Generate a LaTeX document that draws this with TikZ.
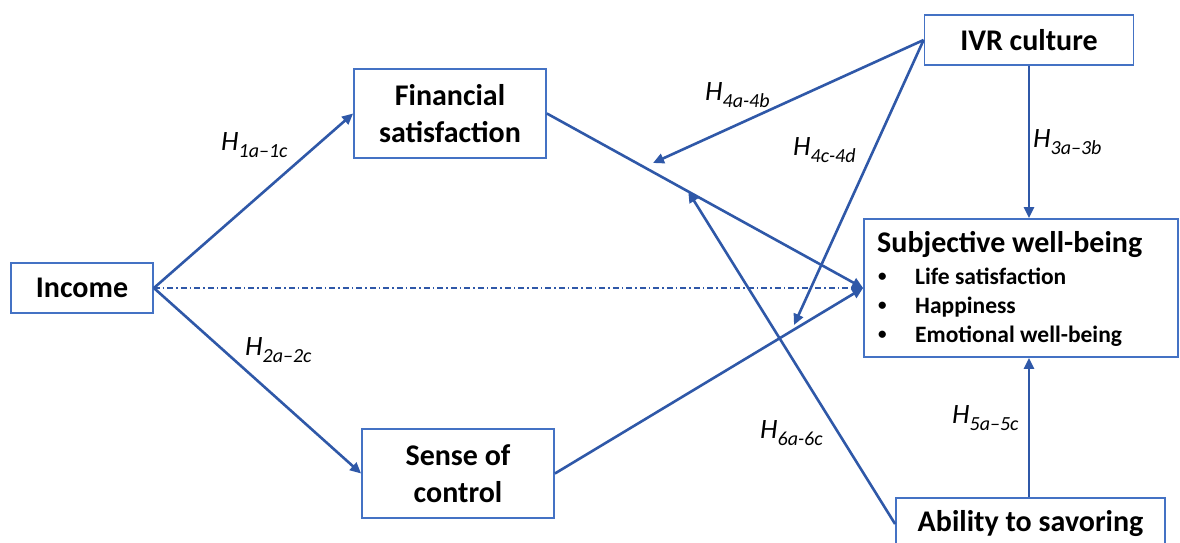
\documentclass[tikz,border=0pt]{standalone}
\usepackage{fontspec}
\setmainfont{Carlito}
\usetikzlibrary{arrows.meta}
\definecolor{arrowblue}{RGB}{47,88,168}
\definecolor{boxblue}{RGB}{68,114,196}
\tikzset{
  box/.style={draw=boxblue, line width=1.8pt, inner sep=0pt, align=center,
    font=\fontsize{30}{37}\selectfont\bfseries},
  conn/.style={draw=arrowblue, line width=2.6pt, -{Triangle[length=11pt,width=10pt]}},
  dashdot/.style={draw=arrowblue, line width=1.7pt, dash pattern=on 6pt off 3pt on 1.5pt off 3pt,
    -{Triangle[length=10pt,width=9pt]}},
  hyp/.style={anchor=base west, inner sep=0pt, font=\fontsize{28}{28}\selectfont\itshape},
  item/.style={anchor=base west, inner sep=0pt, font=\fontsize{23.5}{23.5}\selectfont\bfseries},
}
\newcommand{\hyplabel}[1]{H\raisebox{-7pt}{\fontsize{20}{20}\selectfont #1}}
\newcommand{\smallbullet}{\raisebox{2.5pt}{\fontsize{17}{17}\selectfont\textbullet}}
\begin{document}
\begin{tikzpicture}[x=1pt, y=-1pt]
\useasboundingbox (0,0) rectangle (1180,542);
\fill[white] (0,0) rectangle (1180,542);

% boxes
\node[box, minimum width=142pt, minimum height=50pt] (inc) at (82,288) {Income};
\node[box, minimum width=192pt, minimum height=89pt] (fs) at (450,113.5) {Financial\\satisfaction};
\node[box, minimum width=192pt, minimum height=89pt] (soc) at (458,473.5) {Sense of\\control};
\node[box, minimum width=209pt, minimum height=50pt] (ivr) at (1029,40) {IVR culture};
\node[box, minimum width=314pt, minimum height=138pt] (swb) at (1021,288) {};
\node[box, minimum width=269pt, minimum height=52pt] (abl) at (1030.5,524) {Ability to savoring};

% text inside subjective well-being
\node[anchor=base west, inner sep=0pt, font=\fontsize{30}{30}\selectfont\bfseries] (swbh) at (877,252) {Subjective well-being};
\node[item] (b1) at (878,284) {\smallbullet};
\node[item] (i1) at (915,284) {Life satisfaction};
\node[item] (b2) at (878,313) {\smallbullet};
\node[item] (i2) at (915,313) {Happiness};
\node[item] (b3) at (878,342) {\smallbullet};
\node[item] (i3) at (915,342) {Emotional well-being};

% helper coordinates on the lines
\path (fs.east) -- (swb.west) coordinate[pos=0.447] (m6);
\coordinate (t4ab) at (653,163);
\coordinate (t4cd) at (794,325);

% connectors
\draw[conn] (inc.east) -- (fs.west);
\draw[conn] (inc.east) -- (soc.west);
\draw[dashdot] (inc.east) -- (swb.west);
\draw[conn] (fs.east) -- (swb.west);
\draw[conn] (soc.east) -- (swb.west);
\draw[conn] (ivr.west) -- (t4ab);
\draw[conn] (ivr.west) -- (t4cd);
\draw[conn] (ivr.south) -- (ivr.south |- swb.north);
\draw[conn] (abl.north -| ivr.south) -- (ivr.south |- swb.south);
\draw[conn] (abl.west) -- (m6);

% hypothesis labels
\node[hyp] (h1) at (221,150) {\hyplabel{1a–1c}};
\node[hyp] (h2) at (245,355) {\hyplabel{2a–2c}};
\node[hyp] (h4ab) at (705,100) {\hyplabel{4a-4b}};
\node[hyp] (h4cd) at (793,155) {\hyplabel{4c-4d}};
\node[hyp] (h3) at (1033,147) {\hyplabel{3a–3b}};
\node[hyp] (h5) at (952,423) {\hyplabel{5a–5c}};
\node[hyp] (h6) at (760,438) {\hyplabel{6a-6c}};
\end{tikzpicture}
\end{document}
